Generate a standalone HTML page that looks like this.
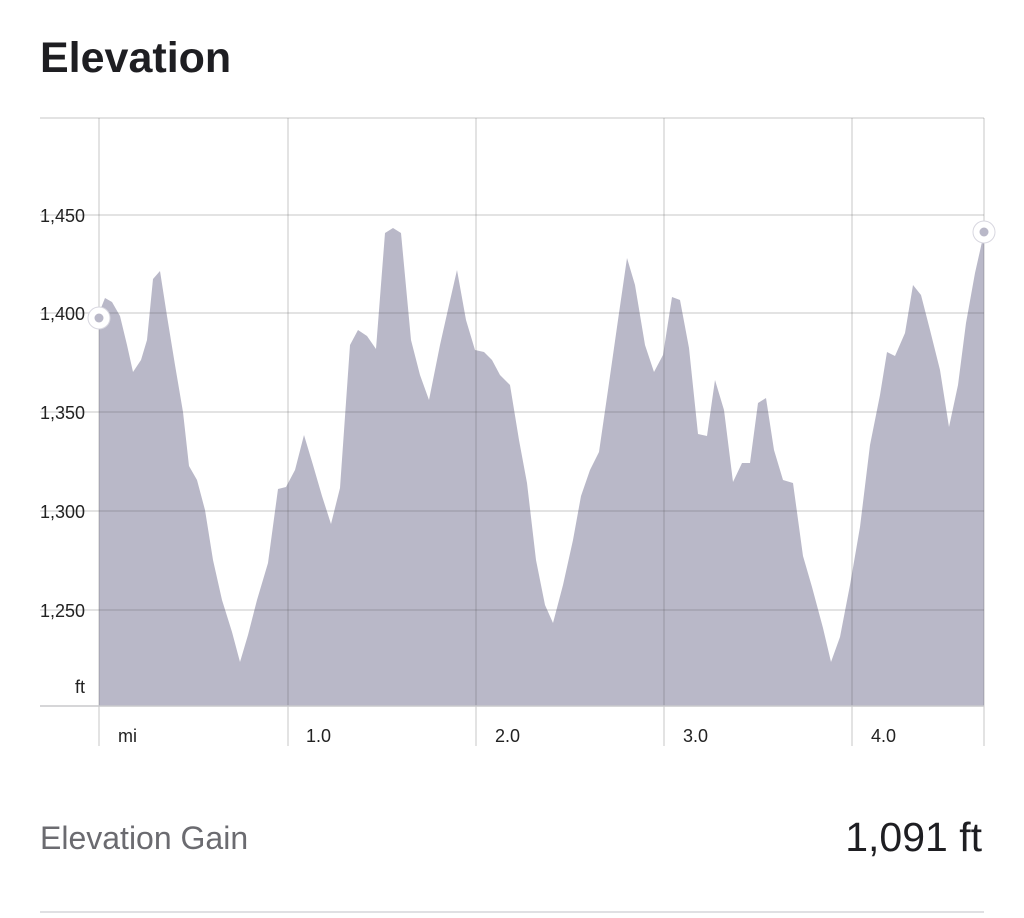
<!DOCTYPE html>
<html><head><meta charset="utf-8"><style>
body{margin:0;background:#fff;width:1024px;height:918px;overflow:hidden;font-family:"Liberation Sans",sans-serif}
</style></head><body>
<svg width="1024" height="918" xmlns="http://www.w3.org/2000/svg" style="position:absolute;left:0;top:0">
<text x="40" y="72" font-size="43" font-weight="bold" fill="#1e1e22" font-family="Liberation Sans, sans-serif">Elevation</text>
<polygon fill="#b9b8c8" points="99,706 99,313 105,298 112,302 120,316 127,345 133,372 141,360 147,340 153,279 160,271 167,316 175,365 183,412 189,466 197,480 205,510 213,560 222,600 232,632 240,662 248,635 257,600 268,563 278,489 286,487 295,470 304,435 313,465 322,496 331,524 340,488 350,345 358,330 367,336 376,349 385,233 393,228 401,233 411,340 420,375 429,400 440,345 449,305 457,270 466,320 475,350 484,352 492,360 500,375 510,385 519,440 527,483 536,560 545,605 553,623 563,585 573,540 581,496 590,470 599,452 608,390 618,320 627,258 635,285 645,345 654,372 663,355 672,297 680,300 689,348 698,434 707,436 715,380 724,410 733,482 742,463 750,463 758,403 766,398 774,450 783,480 793,483 803,556 812,587 823,628 831,662 840,637 850,585 860,527 870,445 880,395 887,352 895,356 905,333 913,285 921,295 930,330 940,370 949,427 958,385 966,323 975,273 984,233 984,706"/>
<g stroke="#555" stroke-opacity="0.22" stroke-width="1.5">
<line x1="40" y1="118" x2="984" y2="118"/>
<line x1="40" y1="215" x2="984" y2="215"/>
<line x1="40" y1="313" x2="984" y2="313"/>
<line x1="40" y1="412" x2="984" y2="412"/>
<line x1="40" y1="511" x2="984" y2="511"/>
<line x1="40" y1="610" x2="984" y2="610"/>
<line x1="99" y1="118" x2="99" y2="746"/>
<line x1="288" y1="118" x2="288" y2="746"/>
<line x1="476" y1="118" x2="476" y2="746"/>
<line x1="664" y1="118" x2="664" y2="746"/>
<line x1="852" y1="118" x2="852" y2="746"/>
<line x1="984" y1="118" x2="984" y2="746"/>
</g>
<line x1="40" y1="706" x2="984" y2="706" stroke="#c8c8cc" stroke-width="1.5"/>
<g font-size="18" fill="#222" font-family="Liberation Sans, sans-serif">
<text x="40" y="222">1,450</text>
<text x="40" y="320">1,400</text>
<text x="40" y="419">1,350</text>
<text x="40" y="518">1,300</text>
<text x="40" y="617">1,250</text>
<text x="75" y="693">ft</text>
<text x="118" y="742">mi</text>
<text x="306" y="742">1.0</text>
<text x="495" y="742">2.0</text>
<text x="683" y="742">3.0</text>
<text x="871" y="742">4.0</text>
</g>
<circle cx="99" cy="318" r="11" fill="#fff" stroke="#d8d7e0" stroke-width="1"/>
<circle cx="99" cy="318" r="4.5" fill="#b9b8c8"/>
<circle cx="984" cy="232" r="11" fill="#fff" stroke="#d8d7e0" stroke-width="1"/>
<circle cx="984" cy="232" r="4.5" fill="#b9b8c8"/>
<text x="40" y="849" font-size="32" fill="#6b6b70" font-family="Liberation Sans, sans-serif">Elevation Gain</text>
<text x="982" y="851" font-size="41" fill="#1e1e22" text-anchor="end" font-family="Liberation Sans, sans-serif">1,091 ft</text>
<line x1="40" y1="912" x2="984" y2="912" stroke="#e0e0e3" stroke-width="2"/>
</svg>
</body></html>
